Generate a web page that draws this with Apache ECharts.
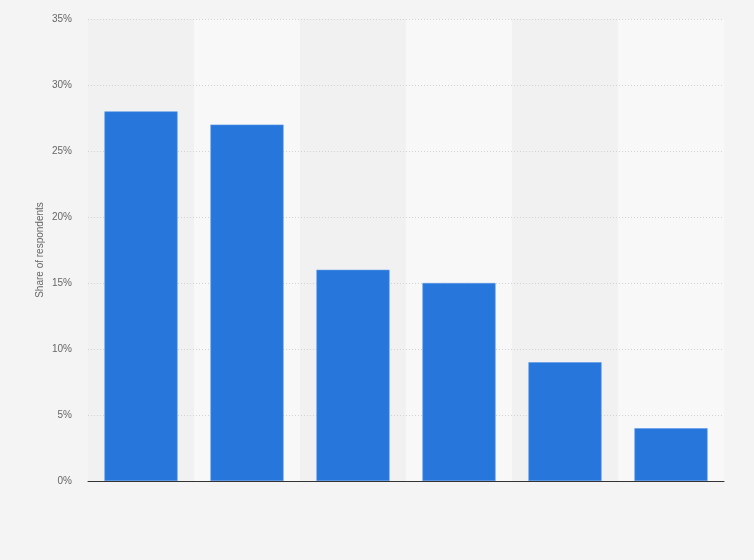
<!DOCTYPE html>
<html><head><meta charset="utf-8">
<script src="https://cdn.jsdelivr.net/npm/echarts@6/dist/echarts.min.js"></script>
<style>html,body{margin:0;padding:0;background:#f4f4f4}#c{width:754px;height:560px}</style>
</head><body><div id="c"></div>
<script>
const categories = ['A','B','C','D','E','F'];
const shares = [28, 27, 16, 15, 9, 4];
const yTicks = [0, 5, 10, 15, 20, 25, 30, 35];

const chart = echarts.init(document.getElementById('c'), null, {renderer:'canvas'});
chart.setOption({
  backgroundColor: '#f4f4f4',
  animation: false,
  grid: {left: 88, right: 30, top: 19, bottom: 79},
  xAxis: [{
    type: 'category',
    data: categories,
    z: 1,
    axisLine: {show: false},
    axisTick: {show: false},
    axisLabel: {show: false},
    splitArea: {show: true, areaStyle: {color: ['#f1f1f1', '#f8f8f8']}}
  }, {
    type: 'category',
    data: categories,
    position: 'bottom',
    z: 6,
    axisLine: {show: true, onZero: false, lineStyle: {color: '#333', width: 1}},
    axisTick: {show: false},
    axisLabel: {show: false},
    splitArea: {show: false},
    splitLine: {show: false}
  }],
  yAxis: {
    type: 'value',
    z: 3,
    min: yTicks[0], max: yTicks[yTicks.length-1], interval: 5,
    name: 'Share of respondents',
    nameLocation: 'middle',
    nameGap: 43,
    nameMoveOverlap: false,
    nameTextStyle: {color: '#666', fontSize: 10, fontFamily: 'Liberation Sans'},
    axisLine: {show: false},
    axisTick: {show: false},
    axisLabel: {color: '#666', fontSize: 10, fontFamily: 'Liberation Sans', formatter: v => v + '%', margin: 16},
    splitLine: {lineStyle: {color: '#d2d2d2', type: [1, 2], width: 1}}
  },
  series: [{
    type: 'bar',
    xAxisIndex: 0,
    z: 4,
    data: shares,
    barCategoryGap: '31%',
    itemStyle: {color: '#2776dc', borderColor: '#5d9ae6', borderWidth: 0.6}
  }]
});
</script></body></html>
